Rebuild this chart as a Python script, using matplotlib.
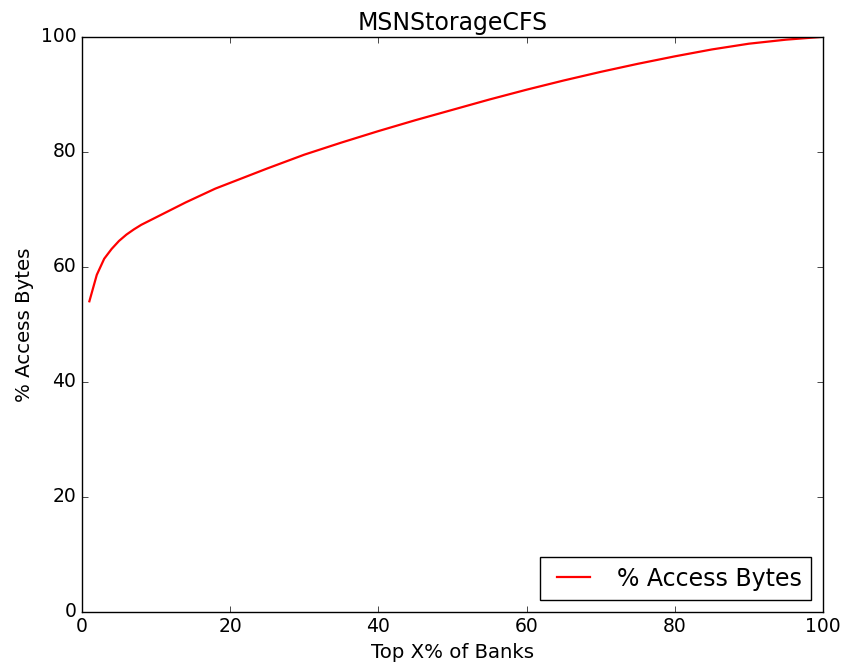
import matplotlib
matplotlib.use('Agg')
import matplotlib.pyplot as plt

# Top X% of banks vs. cumulative % of access bytes
top_pct = [1, 2, 3, 4, 5, 6, 7, 8, 10, 12, 14, 16, 18, 20, 22, 25, 30, 35,
           40, 45, 50, 55, 60, 65, 70, 75, 80, 85, 90, 95, 100]
access_bytes = [54.0, 58.6, 61.4, 63.1, 64.5, 65.6, 66.5, 67.3, 68.6, 69.9,
                71.2, 72.4, 73.6, 74.6, 75.6, 77.1, 79.5, 81.6, 83.6, 85.5,
                87.3, 89.1, 90.8, 92.4, 93.9, 95.3, 96.6, 97.8, 98.8, 99.5,
                100.0]

plt.style.use('classic')

fig = plt.figure(figsize=(8.45, 6.69), dpi=100, facecolor='white')
ax = fig.add_axes([0.097, 0.0855, 0.877, 0.8595])

ax.plot(top_pct, access_bytes, color='red', linewidth=1.6, label='% Access Bytes')

ax.set_xlim(0, 100)
ax.set_ylim(0, 100)
ax.set_title('MSNStorageCFS', fontsize=17)
ax.set_xlabel('Top X% of Banks', fontsize=14.2)
ax.set_ylabel('% Access Bytes', fontsize=14.2)
ax.tick_params(labelsize=13.5)

leg = ax.legend(loc='lower right', fontsize=17, handlelength=2.0,
                handletextpad=0.85)
leg.get_frame().set_linewidth(1.0)

fig.savefig('out.png', dpi=100, facecolor='white')
